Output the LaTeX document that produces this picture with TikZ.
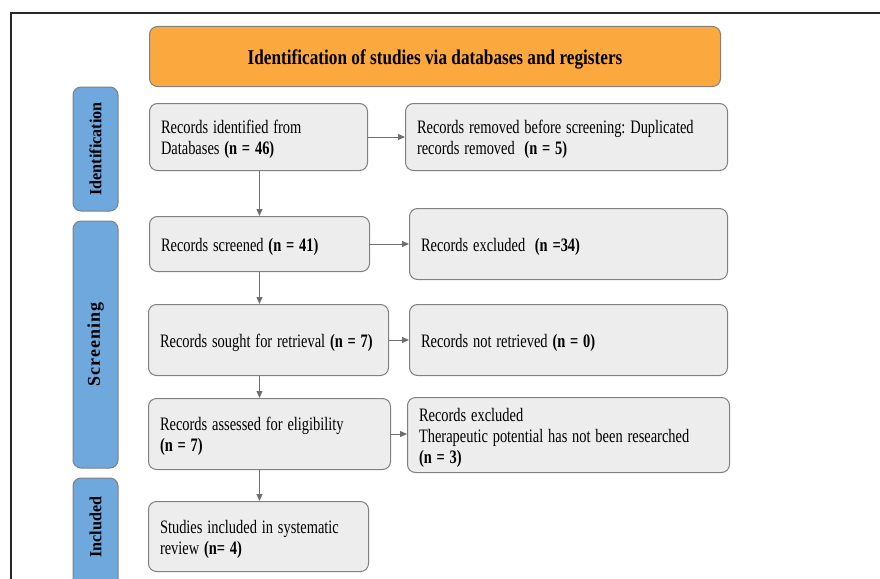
\documentclass[tikz,border=0pt]{standalone}
\usepackage{fontspec}
\usepackage{graphicx}
\setmainfont{Liberation Serif}
\newfontfamily\scrfont[LetterSpace=6]{Liberation Serif}
\usetikzlibrary{arrows.meta}
\frenchspacing
\definecolor{orangefill}{RGB}{251,169,63}
\definecolor{bluefill}{RGB}{111,168,220}
\definecolor{boxfill}{RGB}{237,237,237}
\definecolor{boxline}{RGB}{128,128,128}
\definecolor{arrowcol}{RGB}{110,110,110}
\definecolor{framecol}{RGB}{40,40,40}
\newcommand{\narrowtext}[2][0.76]{\raisebox{-3pt}[\height][\depth]{\scalebox{#1}[1]{\frenchspacing\begin{tabular}{@{}l@{}}#2\end{tabular}}}}
\tikzset{
  pbox/.style={draw=boxline, fill=boxfill, rounded corners=8pt, line width=1pt,
    inner xsep=11.5pt, inner ysep=0pt, anchor=north west, align=left,
    font=\fontsize{19}{21}\selectfont},
  sidebox/.style={draw=boxline, fill=bluefill, rounded corners=8pt, line width=1pt},
  titlebox/.style={draw=boxline, fill=orangefill, rounded corners=8pt, line width=1pt,
    anchor=north west, font=\fontsize{21}{23}\selectfont\bfseries},
  flow/.style={draw=arrowcol, line width=1pt, -{Triangle[length=7pt,width=6pt]}}
}
\begin{document}
\begin{tikzpicture}[x=1pt,y=-1pt]
\clip (0,0) rectangle (880,578);
\fill[white] (0,0) rectangle (880,578);
% frame
\draw[framecol, line width=2pt] (11,590) -- (11,13) -- (890,13);
% title
\node[titlebox, minimum width=571pt, minimum height=60pt] (title) at (149,26)
  {\raisebox{-3pt}[\height][\depth]{\scalebox{0.82}[1]{Identification of studies via databases and registers}}};
% side boxes
\node[sidebox, rotate=90, minimum width=124pt, minimum height=45pt,
  font=\fontsize{17}{19}\selectfont\bfseries] (sid) at (95.5,149) {\scalebox{0.95}[1]{Identification}};
\node[sidebox, rotate=90, minimum width=247pt, minimum height=45pt,
  font=\fontsize{18}{20}\selectfont\scrfont\bfseries] (sscr) at (95.5,344.5) {Screening};
\node[sidebox, rotate=90, minimum width=122pt, minimum height=45pt] (sinc) at (95.5,539) {};
\node[rotate=90, font=\fontsize{17}{19}\selectfont\bfseries] (sinclab) at (95.5,527) {\scalebox{0.95}[1]{Included}};
% left column
\node[pbox, minimum width=218pt, minimum height=67pt, text width=195pt] (ident) at (149,103)
  {\narrowtext{Records identified from\\Databases \textbf{(n = 46)}}};
\node[pbox, minimum width=220pt, minimum height=55pt, text width=197pt] (scr) at (149,216)
  {\narrowtext{Records screened \textbf{(n = 41)}}};
\node[pbox, minimum width=240pt, minimum height=71pt, text width=217pt] (sought) at (148,304)
  {\narrowtext{Records sought for retrieval \textbf{(n = 7)}}};
\node[pbox, minimum width=242pt, minimum height=71pt, text width=219pt] (elig) at (148,398)
  {\narrowtext{Records assessed for eligibility\\\textbf{(n = 7)}}};
\node[pbox, minimum width=220pt, minimum height=70pt, text width=197pt] (incl) at (148,501)
  {\narrowtext{Studies included in systematic\\review \textbf{(n= 4)}}};
% right column
\node[pbox, minimum width=322pt, minimum height=67pt, text width=299pt] (rem) at (405,103)
  {\narrowtext{Records removed before screening: Duplicated\\records removed\ \ \textbf{(n = 5)}}};
\node[pbox, minimum width=318pt, minimum height=71pt, text width=295pt] (exc) at (409,208)
  {\narrowtext{Records excluded\ \ \textbf{(n =34)}}};
\node[pbox, minimum width=318pt, minimum height=71pt, text width=295pt] (notret) at (409,304)
  {\narrowtext{Records not retrieved \textbf{(n = 0)}}};
\node[pbox, minimum width=322pt, minimum height=75pt, text width=299pt] (exc2) at (407,397)
  {\narrowtext{Records excluded\\Therapeutic potential has not been researched\\\textbf{(n = 3)}}};
% horizontal arrows
\draw[flow] (ident.east) -- (ident.east -| rem.west);
\draw[flow] (scr.east) -- (scr.east -| exc.west);
\draw[flow] (sought.east) -- (sought.east -| notret.west);
\draw[flow] (elig.east) -- (elig.east -| exc2.west);
% vertical arrows
\draw[flow] (scr.south |- ident.south) -- (scr.north);
\draw[flow] (scr.south) -- (scr.south |- sought.north);
\draw[flow] (scr.south |- sought.south) -- (scr.south |- elig.north);
\draw[flow] (scr.south |- elig.south) -- (scr.south |- incl.north);
\end{tikzpicture}
\end{document}
